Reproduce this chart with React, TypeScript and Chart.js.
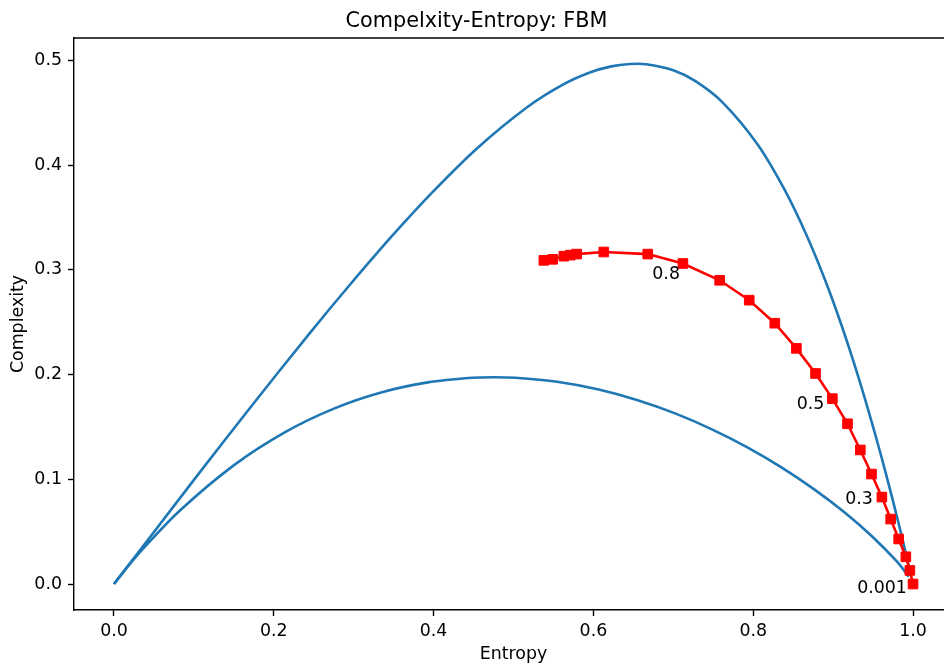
import React, { useEffect, useRef } from "react";
import { Chart, registerables } from "chart.js";

Chart.register(...registerables);

// ---- Data ----
const chartTitle = "Compelxity-Entropy: FBM";
const xLabel = "Entropy";
const yLabel = "Complexity";

// Upper (maximum complexity) boundary
const upperH = [0, 0.0761, 0.1054, 0.167, 0.2446, 0.2958, 0.35, 0.4011, 0.4553, 0.517, 0.5607, 0.5946, 0.6223, 0.6457, 0.666, 0.7, 0.7277, 0.7616, 0.8053, 0.8392, 0.8669, 0.8904, 0.9107, 0.9286, 0.9446, 0.9591, 0.9723, 0.9821, 0.9913, 0.9957];
const upperC = [0, 0.0756, 0.1047, 0.165, 0.2391, 0.2862, 0.334, 0.3761, 0.4166, 0.4552, 0.4763, 0.4881, 0.4942, 0.4965, 0.4963, 0.4905, 0.4801, 0.4599, 0.4199, 0.3765, 0.3328, 0.2893, 0.2466, 0.2049, 0.1644, 0.1251, 0.087, 0.0573, 0.0284, 0.0141];

// Lower (minimum complexity) boundary
const lowerH = [0, 0.0185, 0.0349, 0.0802, 0.1494, 0.2142, 0.276, 0.3354, 0.3928, 0.4483, 0.4755, 0.5022, 0.5545, 0.6053, 0.6545, 0.7022, 0.7483, 0.7927, 0.8353, 0.8759, 0.9141, 0.9492, 0.98, 0.9947];
const lowerC = [0, 0.0178, 0.0324, 0.0685, 0.113, 0.145, 0.1677, 0.1831, 0.1925, 0.1969, 0.1974, 0.1969, 0.1931, 0.1859, 0.1757, 0.1629, 0.1477, 0.1305, 0.1114, 0.0906, 0.0685, 0.0452, 0.0213, 0.0071];

// FBM series (red squares)
const fbmH = [0.538, 0.549, 0.563, 0.571, 0.579, 0.613, 0.668, 0.712, 0.758, 0.795, 0.827, 0.854, 0.878, 0.899, 0.918, 0.934, 0.948, 0.961, 0.972, 0.982, 0.991, 0.996, 1.0];
const fbmC = [0.309, 0.31, 0.313, 0.314, 0.315, 0.317, 0.315, 0.306, 0.29, 0.271, 0.249, 0.225, 0.201, 0.177, 0.153, 0.128, 0.105, 0.083, 0.062, 0.043, 0.026, 0.013, 0.0];

// Text annotations
const annotTexts = ["0.8", "0.5", "0.3", "0.001"];
const annotX = [0.691, 0.8717, 0.9324, 0.9612];
const annotY = [0.2956, 0.1717, 0.0809, -0.0041];

const xTicks = [0.0, 0.2, 0.4, 0.6, 0.8, 1.0];
const yTicks = [0.0, 0.1, 0.2, 0.3, 0.4, 0.5];

const FONT = '"DejaVu Sans", sans-serif';

const extrasPlugin = {
  id: "extras",
  afterDatasetsDraw(chart: any) {
    const { ctx, chartArea, scales } = chart;
    ctx.save();
    ctx.strokeStyle = "#000";
    ctx.lineWidth = 1.4;
    ctx.beginPath();
    ctx.moveTo(chartArea.left - 0.7, chartArea.top);
    ctx.lineTo(chartArea.right + 0.7, chartArea.top);
    ctx.stroke();
    ctx.fillStyle = "#000";
    ctx.font = `17.4px ${FONT}`;
    ctx.textAlign = "center";
    ctx.textBaseline = "middle";
    annotTexts.forEach((t, i) => {
      ctx.fillText(t, scales.x.getPixelForValue(annotX[i]), scales.y.getPixelForValue(annotY[i]));
    });
    ctx.restore();
  },
};

export default function App() {
  const ref = useRef<HTMLCanvasElement | null>(null);

  useEffect(() => {
    if (!ref.current) return;
    const tickFont = { family: FONT, size: 17.4 };
    const chart = new Chart(ref.current, {
      type: "scatter",
      data: {
        datasets: [
          {
            label: "FBM",
            data: fbmH.map((h, i) => ({ x: h, y: fbmC[i] })),
            showLine: true,
            borderColor: "#ff0000",
            borderWidth: 2.6,
            pointStyle: "rect",
            pointRadius: 6.8,
            pointBackgroundColor: "#ff0000",
            pointBorderColor: "#ff0000",
            pointBorderWidth: 1,
            tension: 0,
            order: 0,
          },
          {
            label: "max",
            data: upperH.map((h, i) => ({ x: h, y: upperC[i] })),
            showLine: true,
            borderColor: "#1f77b4",
            borderWidth: 2.6,
            pointRadius: 0,
            tension: 0.3,
            order: 2,
          },
          {
            label: "min",
            data: lowerH.map((h, i) => ({ x: h, y: lowerC[i] })),
            showLine: true,
            borderColor: "#1f77b4",
            borderWidth: 2.6,
            pointRadius: 0,
            tension: 0.3,
            order: 1,
          },
        ],
      },
      options: {
        animation: false,
        responsive: false,
        devicePixelRatio: 1,
        layout: { padding: { left: 0, right: 74, top: 0, bottom: 0 } },
        plugins: {
          legend: { display: false },
          tooltip: { enabled: false },
          title: {
            display: true,
            text: chartTitle,
            color: "#000",
            font: { family: FONT, size: 20.8, weight: "normal", lineHeight: 1.2 },
            padding: { top: 9, bottom: 4.04 },
          },
        },
        scales: {
          x: {
            type: "linear",
            min: -0.05,
            max: 1.05,
            afterBuildTicks: (s: any) => {
              s.ticks = xTicks.map((v) => ({ value: v }));
            },
            afterFit: (s: any) => {
              s.height = 55;
            },
            ticks: {
              color: "#000",
              font: tickFont,
              padding: 5,
              maxRotation: 0,
              autoSkip: false,
              callback: (v: any) => Number(v).toFixed(1),
            },
            grid: {
              display: true,
              drawOnChartArea: false,
              drawTicks: true,
              tickLength: 6,
              tickWidth: 1.4,
              tickColor: "#000",
            },
            border: { display: true, color: "#000", width: 1.4 },
            title: {
              display: true,
              text: xLabel,
              color: "#000",
              font: tickFont,
              padding: { top: 0, bottom: 0 },
            },
          },
          y: {
            type: "linear",
            min: -0.0248,
            max: 0.5213,
            afterBuildTicks: (s: any) => {
              s.ticks = yTicks.map((v) => ({ value: v }));
            },
            afterFit: (s: any) => {
              s.width = 74;
            },
            ticks: {
              color: "#000",
              font: tickFont,
              padding: 6,
              autoSkip: false,
              callback: (v: any) => Number(v).toFixed(1),
            },
            grid: {
              display: true,
              drawOnChartArea: false,
              drawTicks: true,
              tickLength: 6,
              tickWidth: 1.4,
              tickColor: "#000",
            },
            border: { display: true, color: "#000", width: 1.4 },
            title: {
              display: true,
              text: yLabel,
              color: "#000",
              font: tickFont,
              padding: { top: 8, bottom: 0 },
            },
          },
        },
      },
      plugins: [extrasPlugin],
    } as any);
    return () => chart.destroy();
  }, []);

  return (
    <div
      style={{
        position: "absolute",
        left: 0,
        top: 0,
        width: 944,
        height: 665,
        overflow: "hidden",
        background: "#fff",
      }}
    >
      <canvas ref={ref} width={1027} height={665} style={{ display: "block" }} />
    </div>
  );
}
